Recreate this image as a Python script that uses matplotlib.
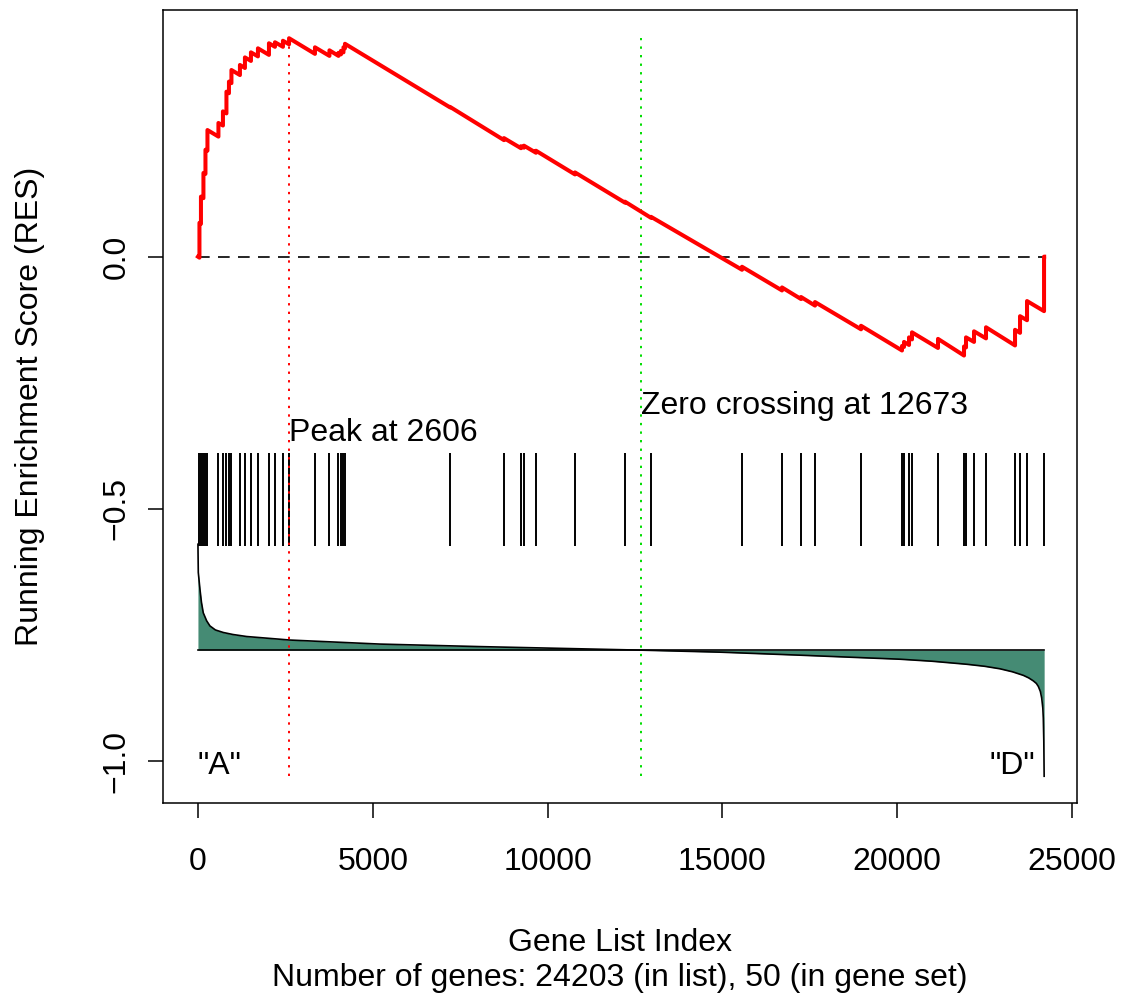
import numpy as np
import matplotlib.pyplot as plt

plt.rcParams['font.family'] = ['Liberation Sans', 'DejaVu Sans']

n_genes = 24203
n_set = 50
peak_at = 2606
zero_cross = 12673

# positions of gene-set members in the ranked list
hit_idx = [43, 86, 157, 215, 272, 586, 715, 815, 887, 958,
           1201, 1344, 1516, 1716, 2031, 2203, 2431, 2606,
           3347, 3761, 4019, 4090, 4162, 4205,
           7208, 8753, 9239, 9325, 9668, 10784, 12214, 12958,
           15561, 16705, 17249, 17649, 18965,
           20137, 20195, 20338, 20423, 21167,
           21911, 21968, 22197, 22540,
           23370, 23513, 23713, 24200]

# running enrichment score just before / just after each hit
es_before = [-0.002, 0.065, 0.116, 0.164, 0.210, 0.238, 0.260, 0.284, 0.324, 0.344,
             0.360, 0.374, 0.388, 0.397, 0.400, 0.416, 0.416, 0.421,
             0.402, 0.398, 0.398, 0.401, 0.405, 0.413,
             0.296, 0.231, 0.215, 0.216, 0.206, 0.163, 0.107, 0.077,
             -0.026, -0.067, -0.084, -0.097, -0.144,
             -0.186, -0.179, -0.175, -0.164, -0.181,
             -0.196, -0.180, -0.169, -0.162,
             -0.176, -0.151, -0.126, -0.108]
es_after = [0.067, 0.119, 0.166, 0.212, 0.251, 0.265, 0.288, 0.327, 0.347, 0.370,
            0.380, 0.395, 0.405, 0.413, 0.423, 0.425, 0.428, 0.433,
            0.415, 0.409, 0.404, 0.408, 0.415, 0.422,
            0.297, 0.235, 0.219, 0.220, 0.210, 0.167, 0.109, 0.079,
            -0.020, -0.061, -0.080, -0.090, -0.137,
            -0.177, -0.169, -0.160, -0.150, -0.163,
            -0.178, -0.160, -0.148, -0.140,
            -0.145, -0.118, -0.088, 0.000]

# ranked list metric (already scaled into the lower panel)
rank_idx = [0, 10, 57, 100, 152, 250, 343, 500, 724, 1000, 1393, 2632, 5206, 8066,
            12673, 14931, 17220, 20080, 21000, 21988, 22500, 22941, 23300, 23608,
            23760, 23894, 23980, 24037, 24095, 24133, 24165, 24179, 24193, 24203]
rank_y = [-0.570, -0.626, -0.659, -0.685, -0.706, -0.722, -0.732, -0.740, -0.745,
          -0.749, -0.753, -0.760, -0.768, -0.773,
          -0.780, -0.784, -0.790, -0.798, -0.802, -0.808, -0.812, -0.817, -0.823,
          -0.830, -0.835, -0.841, -0.846, -0.852, -0.862, -0.875, -0.895, -0.915,
          -0.960, -1.030]
rank_base = -0.780

fig = plt.figure(figsize=(11.24, 9.98), dpi=100)
ax = fig.add_axes([0.145, 0.1954, 0.8132, 0.7946])

# running ES
xs = [0]
ys = [0.0]
for i, b, a in zip(hit_idx, es_before, es_after):
    xs += [i, i]
    ys += [b, a]
xs.append(n_genes)
ys.append(0.0)

ax.plot([0, n_genes], [0, 0], color='black', lw=1.2, dashes=(7, 5))
ax.plot(xs, ys, color='red', lw=2.9, zorder=3)

# hit bars
ax.vlines(hit_idx, -0.574, -0.389, color='black', lw=1.4)

# ranked metric
ax.fill_between(rank_idx, rank_y, rank_base, color='#458B74', lw=0)
ax.plot(rank_idx, rank_y, color='black', lw=1.2)
ax.plot([0, n_genes], [rank_base, rank_base], color='black', lw=1.2)

ymax = max(es_after)
ymin = min(rank_y)
ax.plot([peak_at, peak_at], [ymin, ymax], color='red', lw=1.4, dashes=(1.2, 3.2))
ax.plot([zero_cross, zero_cross], [ymin, ymax], color='#00DD00', lw=1.4, dashes=(1.2, 3.2))

fs = 23
ax.text(peak_at, -0.350, 'Peak at %d' % peak_at, fontsize=fs, ha='left', va='center')
ax.text(zero_cross, -0.297, 'Zero crossing at %d' % zero_cross, fontsize=fs, ha='left', va='center')
ax.text(0, -1.010, '"A"', fontsize=fs, ha='left', va='center')
ax.annotate('"D"', (n_genes, -1.010), xytext=(-6.5, 0), textcoords='offset points',
            fontsize=fs, ha='right', va='center')

ax.set_xlim(-1000, 25143)
ax.set_ylim(-1.083, 0.489)
ax.set_xticks([0, 5000, 10000, 15000, 20000, 25000])
ax.set_yticks([-1.0, -0.5, 0.0])
ax.set_yticklabels(['\u22121.0', '\u22120.5', '0.0'])
ax.tick_params(labelsize=fs, length=10.8, width=1.1)
ax.tick_params(axis='x', pad=21)
ax.tick_params(axis='y', pad=12)
for lab in ax.get_yticklabels():
    lab.set_rotation(90)
    lab.set_va('center')
for s in ax.spines.values():
    s.set_linewidth(1.1)

ax.set_ylabel('Running Enrichment Score (RES)', fontsize=fs)
ax.yaxis.set_label_coords(-0.129, 0.5)
ax.set_xlabel('Gene List Index\nNumber of genes: %d (in list), %d (in gene set)' % (n_genes, n_set),
              fontsize=fs, va='center', linespacing=1.2)
ax.xaxis.set_label_coords(0.5, -0.199)

fig.savefig('out.png', dpi=100)
